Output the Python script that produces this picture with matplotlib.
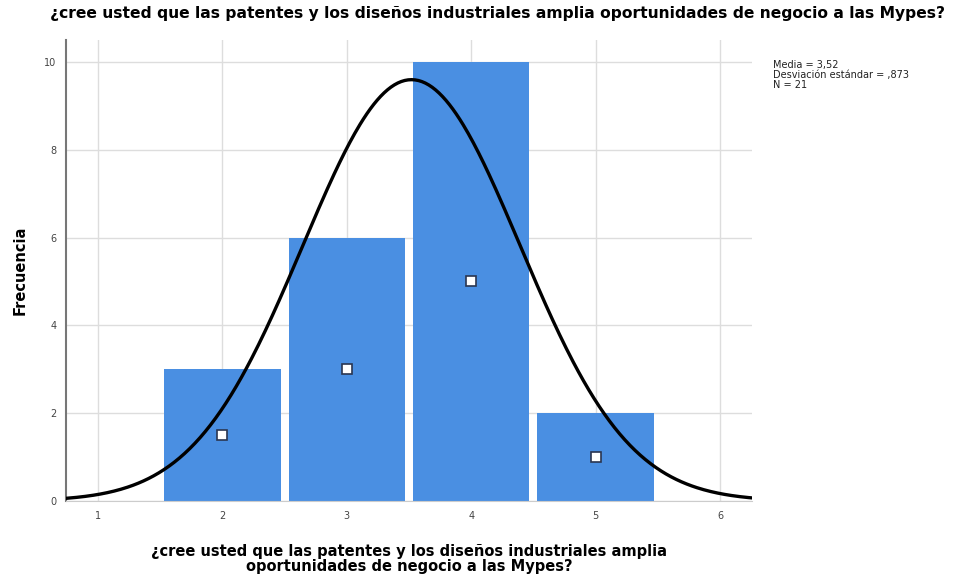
import numpy as np
import matplotlib.pyplot as plt

# -----------------------------
# DATA
# -----------------------------
categorias = [2, 3, 4, 5]
frecuencias = [3, 6, 10, 2]
media = 3.52
desv = 0.873
n = 21
x_ticks = [1, 2, 3, 4, 5, 6]
y_ticks = [0, 2, 4, 6, 8, 10]

titulo = "¿cree usted que las patentes y los diseños industriales amplia oportunidades de negocio a las Mypes?"
xlab = "¿cree usted que las patentes y los diseños industriales amplia\noportunidades de negocio a las Mypes?"

plt.rcParams['font.family'] = ['DejaVu Sans']

fig = plt.figure(figsize=(9.68, 5.80), dpi=100)
ax = fig.add_axes([66 / 968, 1 - 501 / 580, (752 - 66) / 968, (501 - 40) / 580])

ax.bar(categorias, frecuencias, width=0.935, color="#4a8fe2",
       linewidth=0, zorder=2)

# small label boxes in the middle of each bar
ax.plot(categorias, np.array(frecuencias) / 2, linestyle="none", marker="s",
        markersize=7, markerfacecolor="white", markeredgecolor="#2a3550",
        markeredgewidth=1.2, zorder=3)

# normal curve
xs = np.linspace(0.743, 6.257, 400)
ys = n * 1.0 / (desv * np.sqrt(2 * np.pi)) * np.exp(-0.5 * ((xs - media) / desv) ** 2)
ax.plot(xs, ys, color="black", linewidth=2.4, zorder=4)

ax.set_xlim(0.743, 6.257)
ax.set_ylim(0, 10.5)
ax.set_xticks(x_ticks)
ax.set_yticks(y_ticks)
ax.tick_params(axis="both", length=0, labelsize=7, colors="#444444", pad=7)
ax.grid(True, color="#dddddd", linewidth=1, zorder=0)
ax.set_axisbelow(True)

for s in ["top", "right"]:
    ax.spines[s].set_visible(False)
ax.spines["left"].set_color("#777777")
ax.spines["left"].set_linewidth(1.5)
ax.spines["bottom"].set_color("#cccccc")

ax.set_ylabel("Frecuencia", fontsize=10.5, fontweight="bold", labelpad=12)
ax.set_xlabel(xlab, fontsize=10.5, fontweight="bold", labelpad=17, linespacing=0.95)
fig.suptitle(titulo, fontsize=11.2, fontweight="bold", x=497 / 968, y=0.99)

fig.text(773 / 968, 1 - 60 / 580,
         "Media = 3,52\nDesviación estándar = ,873\nN = 21",
         fontsize=7.0, va="top", ha="left", color="#222222", linespacing=1.0)

fig.savefig("out.png", dpi=100)
